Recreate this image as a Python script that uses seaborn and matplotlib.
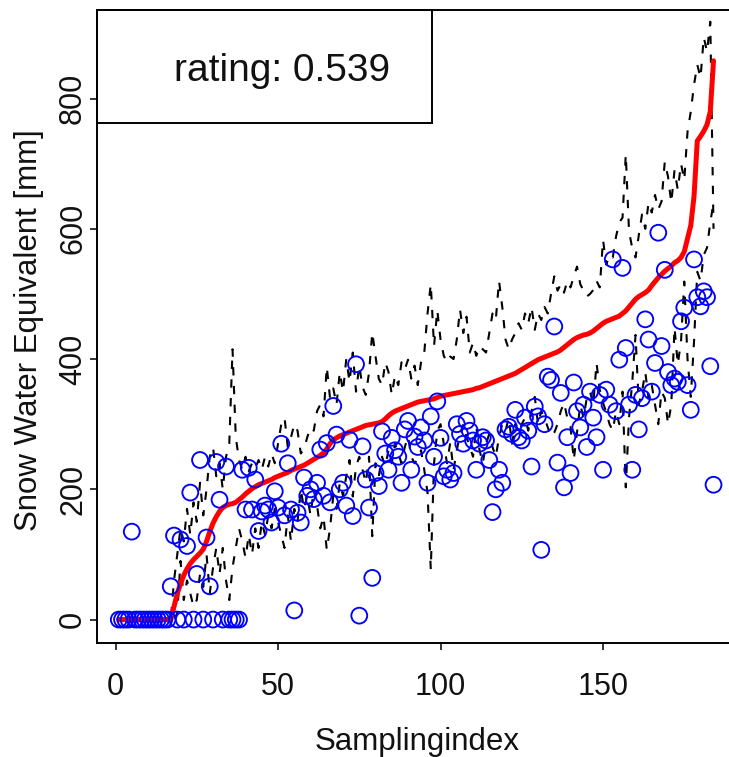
import numpy as np
import pandas as pd
import matplotlib
matplotlib.use("Agg")
import matplotlib.pyplot as plt
import seaborn as sns
from matplotlib.patches import Rectangle

# ---------------- data ----------------
# red line: sorted model values per sampling index 1..184
red = [0] * 17 + [
    20, 40, 55, 68, 78, 86, 92, 97, 102, 108, 120, 135, 148, 158, 166, 172, 175, 177, 178, 180,
    184, 188, 193, 197, 201, 204, 207, 209, 211, 213, 215, 218, 220, 222, 224, 226, 229, 231, 233, 235,
    237, 240, 243, 246, 249, 252, 256,
    262, 270, 276, 279, 282, 284, 286, 288, 290, 292, 294,
    296, 298, 299, 300, 301, 302, 304, 308, 313, 317, 320, 322, 324,
    326, 328, 330, 332, 334, 335, 336, 337, 338, 339, 341, 343,
    344, 345, 346, 347, 348, 349, 350, 351, 352, 353, 355, 356, 358, 360, 362, 364, 366, 368, 370, 372,
    374, 376, 378, 381, 384,
    387, 390, 393, 396, 399, 401, 403, 405, 407, 409, 411, 414, 418, 422, 426, 430, 433, 435, 437, 438,
    440, 443, 447, 451, 455,
    458, 460, 462, 464, 466, 470, 474, 480, 486, 492, 496, 499, 502, 506, 513, 519, 525, 530, 535, 539,
    543, 548, 551, 556, 565, 585, 605, 650, 735, 742, 750, 760, 780, 858]

# blue circles: observed values
observed = [0, 0, 0, 0, 135, 0, 0, 0, 0, 0, 0, 0, 0, 0, 0, 0, 51] + [
    129, 0, 123, 0, 113, 195, 0, 70, 245, 0, 126, 51, 0, 242, 184, 0, 235, 0, 0, 0,
    0, 230, 169, 233, 169, 215, 136, 166, 175, 169, 149, 197, 172, 270, 160, 240, 169,
    14, 164, 149, 218, 190, 200, 185, 210, 261, 190, 271, 180, 328, 284, 200, 210, 175, 276, 159, 392,
    6, 266, 215, 172, 64, 225, 205, 289, 255, 230, 279, 260, 250, 210, 292, 305, 230, 281,
    265, 295, 275, 210, 312, 250, 335, 279, 220, 230, 215, 225, 300, 285, 270, 305, 290, 275, 230, 270,
    280, 275, 245, 165, 200, 230, 210, 292, 296, 285, 322, 280, 275,
    310, 290, 235, 327, 312, 107, 300, 373, 368, 450, 241, 348, 203, 280, 225, 364, 320, 295, 330, 265,
    350, 310, 280, 345, 230, 353, 330,
    553, 320, 399, 540, 417, 330, 230, 345, 292, 340, 461, 430, 350, 394, 594, 420, 537, 380, 360, 370,
    365, 458, 479, 360, 322, 553, 495, 481, 504, 495, 389, 207]

# black dashed: upper bound
upper = [0] * 17 + [
    60, 100, 140, 120, 170, 130, 180, 150, 210, 160, 200, 250, 265, 220, 240, 200, 250, 270, 415, 280,
    245, 230, 250, 228, 240, 232, 245, 230, 250, 235, 255, 240, 270, 300, 310, 265, 280, 300,
    290, 255, 262, 280, 295, 290, 320, 330, 312, 388, 340, 355, 330, 380, 350, 400, 365, 410, 350, 390,
    357, 345, 379, 441, 404, 370, 360, 395, 380, 345, 375, 360, 395, 384, 399, 370, 390, 360, 395, 410,
    470, 515, 420, 475, 430, 405, 395, 404, 400, 430, 476, 440, 465, 410, 425, 405, 420, 415, 410, 440,
    470, 460, 520, 480, 430, 415, 430, 440, 455, 445,
    470, 455, 480, 445, 470, 460, 480, 470, 500, 527, 505, 515, 502, 520, 510, 527, 542, 515, 505, 496,
    500, 506, 520, 510, 583, 545, 560,
    556, 588, 610, 617, 714, 596, 570, 556, 590, 622, 600, 640, 625, 652, 630, 642, 703, 680, 640, 690,
    660, 700, 675, 749, 780, 821, 852, 832, 894, 872, 918, 600]

# black dashed: lower bound
lower = [0] * 17 + [
    0, 10, 90, 30, 60, 40, 20, 30, 70, 50, 100, 40, 80, 110, 70, 110, 60, 30, 80, 110,
    140, 120, 95, 130, 100, 140, 110, 150, 130, 160, 140, 170, 150, 130, 110, 160, 120, 170,
    150, 200, 170, 190, 160, 200, 175, 140, 158, 107, 140, 190, 170, 210, 190, 220, 245, 189, 235, 250,
    230, 210, 250, 128, 240, 220, 250, 235, 260, 240, 270, 255, 240, 265, 281, 250, 240, 246, 260, 230,
    195, 77, 240, 290, 300, 270, 240, 272, 230, 260, 285, 300, 280, 265, 250, 296, 260, 240, 270, 285,
    265, 250, 280, 300, 290, 310, 270, 300, 285, 300,
    310, 290, 320, 342, 300, 320, 310, 295, 281, 287, 300, 320, 333, 310, 296, 245, 287, 330, 310, 340,
    350, 330, 394, 353, 333, 318, 300,
    290, 320, 300, 350, 203, 310, 365, 437, 330, 350, 380, 340, 360, 330, 300, 350, 340, 300, 330, 448,
    392, 427, 519, 400, 342, 427, 534, 520, 560, 571, 610, 640]

x_ticks = [0, 50, 100, 150]
y_ticks = [0, 200, 400, 600, 800]
x_label = "Samplingindex"
y_label = "Snow Water Equivalent [mm]"
legend_text = "rating: 0.539"


def frame(vals):
    return pd.DataFrame({"idx": np.arange(1, len(vals) + 1), "v": vals})


# ---------------- style ----------------
sns.set_theme(style="white")
plt.rcParams["font.family"] = ["Liberation Sans", "DejaVu Sans"]

fig = plt.figure(figsize=(7.29, 7.57), dpi=100)
ax = fig.add_axes([0.13306, 0.15059, 0.87826, 0.83620])

dash = (0, (4, 5))
sns.lineplot(data=frame(upper), x="idx", y="v", ax=ax, color="black", lw=1.5,
             linestyle=dash, estimator=None, sort=False, zorder=1)
sns.lineplot(data=frame(lower), x="idx", y="v", ax=ax, color="black", lw=1.5,
             linestyle=dash, estimator=None, sort=False, zorder=1)
sns.lineplot(data=frame(red), x="idx", y="v", ax=ax, color="#FF0000", lw=3.6,
             estimator=None, sort=False, zorder=2, solid_capstyle="round")
sns.scatterplot(data=frame(observed), x="idx", y="v", ax=ax, marker="o", s=130,
                facecolor="none", edgecolor="#0000FF", linewidth=1.35, zorder=3)

ax.set_xlim(-5.7, 191.3)
ax.set_ylim(-36, 936)
ax.set_xticks(x_ticks)
ax.set_yticks(y_ticks)
ax.set_xticklabels([str(t) for t in x_ticks])
ax.set_yticklabels([str(t) for t in y_ticks])

for sp in ax.spines.values():
    sp.set_visible(True)
    sp.set_color("black")
    sp.set_linewidth(1.4)

ax.tick_params(axis="both", direction="out", length=5, width=1.1, colors="black",
               labelsize=22, bottom=True, left=True, labelcolor="#111111")
ax.tick_params(axis="x", pad=16)
ax.tick_params(axis="y", pad=6.5)
for lab in ax.get_yticklabels():
    lab.set_rotation(90)
    lab.set_rotation_mode("anchor")
    lab.set_va("baseline")
    lab.set_ha("center")

ax.set_xlabel(x_label, fontsize=22.5, color="#111111")
ax.set_ylabel(y_label, fontsize=22.5, color="#111111")
ax.xaxis.set_label_coords(0.5, -0.169)
ax.xaxis.label.set_va("baseline")
ax.yaxis.set_label_coords(-0.0937, 0.495)
ax.yaxis.label.set_va("baseline")

ax.add_patch(Rectangle((0, 0.8215), 0.523, 0.1785, transform=ax.transAxes,
                       fill=False, edgecolor="black", linewidth=1.4, zorder=5, clip_on=False))
ax.text(0.2897, 0.8878, legend_text, transform=ax.transAxes, ha="center", va="baseline",
        fontsize=28, color="#111111", zorder=6)

fig.savefig("out.png", dpi=100)
